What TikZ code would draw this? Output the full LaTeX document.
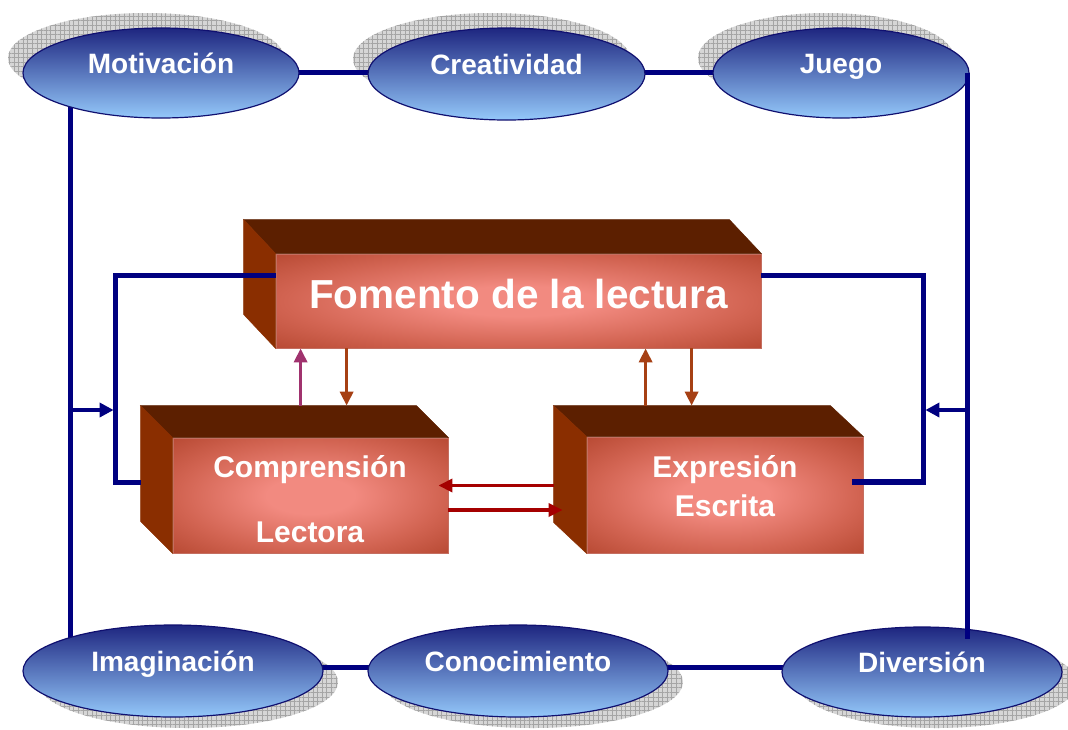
\documentclass[tikz,border=0pt]{standalone}
\usepackage{fontspec}
\setmainfont{Liberation Sans}
\usetikzlibrary{shapes.geometric,arrows.meta,patterns.meta}
\definecolor{navyline}{RGB}{0,0,128}
\definecolor{ellTop}{RGB}{30,38,128}
\definecolor{ellBot}{RGB}{148,200,250}
\definecolor{ellEdge}{RGB}{16,16,112}
\definecolor{boxIn}{RGB}{242,138,128}
\definecolor{boxMid}{RGB}{210,100,82}
\definecolor{boxMid2}{RGB}{174,64,40}
\definecolor{boxOut}{RGB}{154,48,24}
\definecolor{boxTop}{RGB}{92,31,0}
\definecolor{boxSide}{RGB}{138,46,0}
\definecolor{boxEdge}{RGB}{196,110,96}
\definecolor{arrPurple}{RGB}{160,50,110}
\definecolor{arrBrown}{RGB}{166,64,20}
\definecolor{arrRed}{RGB}{165,0,0}
\definecolor{shadowGray}{RGB}{214,214,214}
\definecolor{hatchGray}{RGB}{165,165,165}
\pgfdeclareradialshading{boxglow}{\pgfpointorigin}{color(0bp)=(boxIn); color(8bp)=(boxIn); color(24bp)=(boxMid); color(40bp)=(boxMid2); color(50bp)=(boxOut)}
\pgfdeclarelayer{paperlayer}
\pgfdeclarelayer{shadowlayer}
\pgfdeclarelayer{linelayer}
\pgfsetlayers{paperlayer,shadowlayer,linelayer,main}
\begin{document}
\begin{tikzpicture}[x=1pt,y=-1pt,
  ellnode/.style={ellipse, draw=ellEdge, line width=1.2pt, top color=ellTop, bottom color=ellBot,
    inner sep=0pt, text=white, font=\bfseries\fontsize{28}{32}\selectfont, text height=14pt, text depth=14pt},
  shadowfill/.style={preaction={fill=shadowGray}, pattern={Hatch[distance=4.6pt,angle=0,line width=0.5pt]}, pattern color=hatchGray},
  outerline/.style={draw=navyline, line width=5pt},
  loopline/.style={draw=navyline, line width=5.5pt},
  frontface/.style={rectangle, draw=boxEdge, line width=0.8pt, shade, shading=boxglow, inner sep=0pt},
  topface/.style={fill=boxTop, draw=boxTop, line width=0.5pt},
  sideface/.style={fill=boxSide, draw=boxSide, line width=0.5pt},
  boxtxt/.style={text=white, font=\bfseries\fontsize{30}{34}\selectfont, anchor=base, inner sep=0pt},
  smallarrow/.style={line width=3.5pt, -{Triangle[length=14pt,width=13pt]}},
  navyarrow/.style={draw=navyline, line width=4pt, -{Triangle[length=14pt,width=14pt]}}
]
\begin{pgfonlayer}{paperlayer}
  \fill[white] (0,0) rectangle (1068,729);
\end{pgfonlayer}
\useasboundingbox (0,0) rectangle (1068,729);

% ellipses
\node[ellnode, minimum width=276pt, minimum height=90pt] (mot) at (161,73) {Motivación};
\node[ellnode, minimum width=277pt, minimum height=92pt] (cre) at (506.5,74) {Creatividad};
\node[ellnode, minimum width=256pt, minimum height=90pt] (jue) at (841,73) {Juego};
\node[ellnode, minimum width=300pt, minimum height=92pt] (ima) at (173,671) {Imaginación};
\node[ellnode, minimum width=300pt, minimum height=92pt] (con) at (518,671) {Conocimiento};
\node[ellnode, minimum width=280pt, minimum height=90pt] (div) at (922,672) {Diversión};

\begin{pgfonlayer}{shadowlayer}
  \path[shadowfill] ([shift={(-15,-15)}]mot.center) ellipse [x radius=138, y radius=45];
  \path[shadowfill] ([shift={(-15,-15)}]cre.center) ellipse [x radius=138.5, y radius=46];
  \path[shadowfill] ([shift={(-15,-15)}]jue.center) ellipse [x radius=128, y radius=45];
  \path[shadowfill] ([shift={(15,11)}]ima.center) ellipse [x radius=150, y radius=46];
  \path[shadowfill] ([shift={(15,11)}]con.center) ellipse [x radius=150, y radius=46];
  \path[shadowfill] ([shift={(15,11)}]div.center) ellipse [x radius=140, y radius=45];
\end{pgfonlayer}

% outer connectors
\coordinate (oL) at (70,410);
\coordinate (oR) at (967,410);
\coordinate (jr) at ([shift={(-2,0)}]jue.east);
\coordinate (dtop) at ([shift={(0,-33)}]div.center);
\begin{pgfonlayer}{linelayer}
  \draw[outerline] ([shift={(0,-1)}]mot.center) -- ([shift={(0,-2)}]cre.center) -- ([shift={(0,-1)}]jue.center);
  \draw[outerline] (mot.center -| oL) -- (ima.center -| oL);
  \draw[outerline] ([shift={(0,-4)}]ima.center) -- ([shift={(0,-4)}]con.center) -- ([shift={(0,-5)}]div.center);
\end{pgfonlayer}
\draw[outerline] (jr) -- (jr |- dtop);

% boxes: front faces
\node[frontface, minimum width=485pt, minimum height=94pt] (fom) at (518.5,301)
  {\color{white}\bfseries\fontsize{40.5}{44}\selectfont\rule[-15pt]{0pt}{30pt}Fomento de la lectura};
\node[frontface, minimum width=275pt, minimum height=115pt] (com) at (310.5,495.5) {};
\node[frontface, minimum width=276pt, minimum height=116pt] (exp) at (725,495) {};

% 3D faces
\fill[topface] (fom.north west) -- ++(-32,-34) -- ([shift={(-32,-34)}]fom.north east) -- (fom.north east) -- cycle;
\fill[sideface] (fom.north west) -- ++(-32,-34) -- ([shift={(-32,-34)}]fom.south west) -- (fom.south west) -- cycle;
\fill[topface] (com.north west) -- ++(-32,-32) -- ([shift={(-32,-32)}]com.north east) -- (com.north east) -- cycle;
\fill[sideface] (com.north west) -- ++(-32,-32) -- ([shift={(-32,-32)}]com.south west) -- (com.south west) -- cycle;
\fill[topface] (exp.north west) -- ++(-33,-31) -- ([shift={(-33,-31)}]exp.north east) -- (exp.north east) -- cycle;
\fill[sideface] (exp.north west) -- ++(-33,-31) -- ([shift={(-33,-31)}]exp.south west) -- (exp.south west) -- cycle;

% box texts
\node[boxtxt] (comt1) at (310,477) {Comprensión};
\node[boxtxt] (comt2) at (310,542) {Lectora};
\node[boxtxt] (expt1) at (725,477) {Expresión};
\node[boxtxt] (expt2) at (725,516) {Escrita};

% inner loops
\coordinate (lcorner) at ([shift={(-57,-13)}]com.west);
\coordinate (rcorner) at ([shift={(60,-13)}]exp.east);
\draw[loopline] ([shift={(0,22)}]fom.north west) -| (lcorner) -- ([shift={(-32,-13)}]com.west);
\draw[loopline] ([shift={(0,22)}]fom.north east) -| (rcorner) -- ([shift={(-11,-13)}]exp.east);

% arrows from outer frame
\draw[navyarrow] (oL) -- ([shift={(-2,0)}]oL -| lcorner);
\draw[navyarrow] (oR) -- ([shift={(2,0)}]oR -| rcorner);

% vertical arrows between boxes
\coordinate (pA) at ([shift={(128,-32)}]com.north west);
\coordinate (bA) at ([shift={(174,-32)}]com.north west);
\coordinate (eA) at ([shift={(59,-31)}]exp.north west);
\coordinate (eB) at ([shift={(105,-31)}]exp.north west);
\draw[smallarrow, draw=arrPurple, fill=arrPurple] (pA) -- (pA |- fom.south);
\draw[smallarrow, draw=arrBrown, fill=arrBrown] (bA |- fom.south) -- (bA);
\draw[smallarrow, draw=arrBrown, fill=arrBrown] (eA) -- (eA |- fom.south);
\draw[smallarrow, draw=arrBrown, fill=arrBrown] (eB |- fom.south) -- (eB);

% horizontal arrows between boxes
\coordinate (rA) at ([shift={(-33,-9.5)}]exp.west);
\coordinate (rT) at ([shift={(-10,0)}]com.east);
\coordinate (rB) at ([shift={(0,14.5)}]com.east);
\coordinate (rBT) at ([shift={(-24,0)}]exp.west);
\draw[smallarrow, draw=arrRed, fill=arrRed] (rA) -- (rA -| rT);
\draw[smallarrow, draw=arrRed, fill=arrRed] (rB) -- (rB -| rBT);
\end{tikzpicture}
\end{document}
